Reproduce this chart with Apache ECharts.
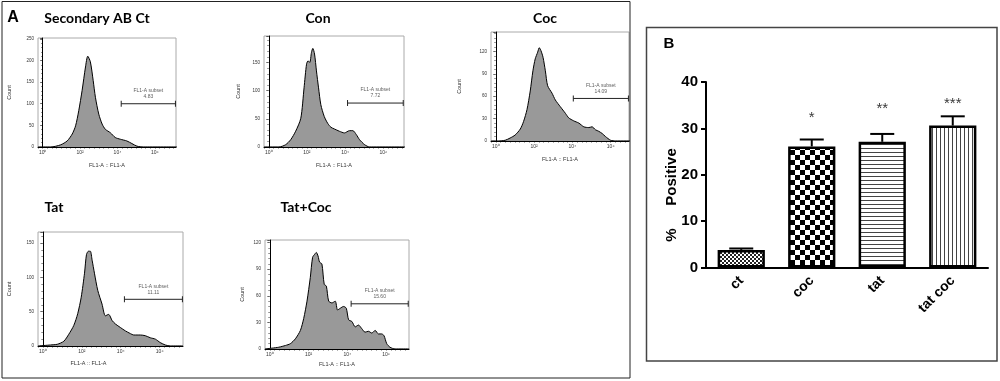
<!DOCTYPE html>
<html>
<head>
<meta charset="utf-8">
<script src="https://cdn.jsdelivr.net/npm/echarts@6/dist/echarts.min.js"></script>
<style>
  html, body { margin: 0; padding: 0; background: #fff; }
  #chart { width: 1000px; height: 381px; }
</style>
</head>
<body>
<div id="chart"></div>
<script>
// flow histograms: [log10(FL1-A), count]
const secondaryAbCt = [[-0.25,0],[0.43,0],[0.96,5],[1.31,14],[1.58,30],[1.76,49],[1.93,84],[2.11,131],[2.29,185],[2.41,210],[2.55,197],[2.70,154],[2.82,115],[3.0,76],[3.18,53],[3.35,41],[3.62,33],[3.88,22],[4.15,18],[4.5,14],[4.77,8],[5.04,2],[5.39,0],[7.2,0]];
const con = [[-0.25,0],[0.53,0],[0.88,4],[1.15,13],[1.41,28],[1.68,51],[1.85,105],[1.98,147],[2.06,153],[2.15,150],[2.24,168],[2.31,175],[2.40,165],[2.50,135],[2.61,105],[2.73,75],[2.91,54],[3.09,42],[3.26,35],[3.44,32],[3.70,28],[3.97,25],[4.23,29],[4.41,29],[4.59,22],[4.76,13],[5.03,4],[5.29,0],[7.2,0]];
const coc = [[-0.25,0],[0.14,0],[0.49,1],[0.75,4],[1.01,8],[1.28,16],[1.45,26],[1.63,42],[1.80,67],[1.94,94],[2.06,110],[2.19,119],[2.27,125],[2.36,121],[2.47,112],[2.59,94],[2.71,74],[2.94,64],[3.11,55],[3.37,46],[3.64,37],[3.81,31],[4.07,27],[4.34,24],[4.60,19],[4.86,18],[5.03,19],[5.21,15],[5.38,13],[5.56,10],[5.73,6],[6.0,1],[6.26,0],[7.2,0]];
const tat = [[-0.25,0],[0.39,1.5],[0.74,2.5],[1.08,7],[1.33,17],[1.59,30],[1.79,47],[1.97,71],[2.14,106],[2.24,133],[2.34,138],[2.44,138],[2.53,125],[2.65,106],[2.82,81],[3.04,61],[3.21,44],[3.38,46],[3.56,37],[3.73,32],[3.98,27],[4.24,22],[4.50,18],[4.67,16],[5.01,16],[5.26,15],[5.52,12],[5.78,10],[6.03,5],[6.29,1.5],[6.55,0],[7.2,0]];
const tatCoc = [[-0.25,0],[0.12,1],[0.46,2],[0.81,4],[1.06,6],[1.32,11.5],[1.58,21],[1.75,34.5],[1.92,54],[2.09,80.5],[2.21,103.5],[2.32,107],[2.40,109],[2.49,105],[2.57,98],[2.69,96],[2.81,73],[2.92,71],[3.04,54],[3.21,52],[3.38,54],[3.50,44],[3.64,46],[3.81,48],[3.95,46],[4.07,33],[4.24,31],[4.41,25],[4.58,27],[4.75,23],[4.92,19],[5.09,20],[5.27,18],[5.44,21],[5.61,17],[5.78,17],[5.90,15],[6.04,6],[6.21,2],[6.47,0],[7.2,0]];

const histTitles = ['Secondary AB Ct', 'Con', 'Coc', 'Tat', 'Tat+Coc'];
const histData = [secondaryAbCt, con, coc, tat, tatCoc];
const gateValues = ['4.83', '7.72', '14.09', '11.11', '15.60'];
const gateLevels = [100, 78, 57, 68, 51];
const gateStart = [4.2, 4.13, 4.05, 4.19, 4.2];
const gateEnd = [7.1, 7.05, 6.93, 7.17, 7.15];
const countMax = [252, 197, 146, 166, 123];
const countStep = [50, 50, 30, 50, 30];
const logMax = [7.13, 7.09, 6.96, 7.2, 7.19];

// panel B
const barCategories = ['ct', 'coc', 'tat', 'tat coc'];
const barValues = [3.8, 26.1, 27.1, 30.6];
const barErrors = [0.3, 1.5, 1.7, 2.0];
const barStars = ['', '*', '**', '***'];
const starLevels = [null, 33.0, 34.8, 36.0];

// layout
const frames = [
  { left: 38, top: 38, width: 138, height: 109 },
  { left: 264, top: 36, width: 140, height: 111 },
  { left: 491, top: 32, width: 138, height: 109 },
  { left: 38, top: 232, width: 145, height: 114 },
  { left: 265, top: 240, width: 144, height: 109 }
];
const titlePos = [[97, 18], [318, 18], [545, 18], [54, 207], [306, 207]];
const countGap = [26, 23, 29, 26, 20];
const nameGapX = [15, 15, 15, 14, 12];
const nameShift = [0, 0, 0, 44, 0];

const small = 'Liberation Sans';
const sup = { 0: '\u2070', 2: '\u00b2', 4: '\u2074', 6: '\u2076' };

function pattern(kind) {
  const c = document.createElement('canvas');
  const ctx = c.getContext('2d');
  if (kind === 'fine') {
    c.width = 4; c.height = 4;
    ctx.fillStyle = '#fff'; ctx.fillRect(0, 0, 4, 4);
    ctx.fillStyle = '#222'; ctx.fillRect(0, 0, 2, 2); ctx.fillRect(2, 2, 2, 2);
  } else if (kind === 'check') {
    c.width = 10; c.height = 10;
    ctx.fillStyle = '#fff'; ctx.fillRect(0, 0, 10, 10);
    ctx.fillStyle = '#000'; ctx.fillRect(0, 0, 5, 5); ctx.fillRect(5, 5, 5, 5);
  } else if (kind === 'hline') {
    c.width = 4; c.height = 4;
    ctx.fillStyle = '#fff'; ctx.fillRect(0, 0, 4, 4);
    ctx.fillStyle = '#444'; ctx.fillRect(0, 0, 4, 1);
  } else {
    c.width = 4; c.height = 4;
    ctx.fillStyle = '#fff'; ctx.fillRect(0, 0, 4, 4);
    ctx.fillStyle = '#444'; ctx.fillRect(0, 0, 1, 4);
  }
  return { image: c, repeat: 'repeat' };
}
const barFills = [pattern('fine'), pattern('check'), pattern('hline'), pattern('vline')];

const grid = [], xAxis = [], yAxis = [], series = [], graphic = [];

frames.forEach((f, i) => {
  grid.push(Object.assign({ show: true, borderColor: '#aaa', borderWidth: 1, backgroundColor: 'transparent' }, f));
  xAxis.push({
    gridIndex: i, type: 'value', min: -0.25, max: logMax[i], interval: 0.25,
    name: 'FL1-A :: FL1-A', nameLocation: 'middle', nameGap: nameGapX[i],
    nameTextStyle: { fontFamily: small, fontSize: 5.5, color: '#333', padding: [0, nameShift[i], 0, 0] },
    axisLine: { lineStyle: { color: '#000', width: 1 } },
    axisTick: { length: 1.5, lineStyle: { color: '#000', width: 0.6 } },
    splitLine: { show: false },
    axisLabel: {
      fontFamily: small, fontSize: 5, color: '#333', margin: 3, showMaxLabel: false,
      formatter: v => {
        const r = Math.round(v);
        if (Math.abs(v - r) > 1e-6 || r < 0 || r % 2 !== 0 || r > 6) return '';
        return '10' + sup[r];
      }
    }
  });
  yAxis.push({
    gridIndex: i, type: 'value', min: 0, max: countMax[i], interval: countStep[i],
    name: 'Count', nameLocation: 'middle', nameGap: countGap[i], nameRotate: 90,
    nameTextStyle: { fontFamily: small, fontSize: 5.5, color: '#333' },
    axisLine: { show: true, lineStyle: { color: '#000', width: 1 } },
    axisTick: { length: 2.5, lineStyle: { color: '#000', width: 0.6 } },
    minorTick: { show: true, splitNumber: 5, length: 1.5, lineStyle: { color: '#000', width: 0.5 } },
    splitLine: { show: false },
    axisLabel: { fontFamily: small, fontSize: 4.5, color: '#333', margin: 4, showMaxLabel: false }
  });
  series.push({
    type: 'line', xAxisIndex: i, yAxisIndex: i, data: histData[i],
    symbol: 'none', smooth: 0.25, silent: true,
    lineStyle: { color: '#000', width: 1 },
    areaStyle: { color: '#999', opacity: 1 }
  });
  series.push({
    type: 'line', xAxisIndex: i, yAxisIndex: i,
    data: [[gateStart[i], gateLevels[i]], [gateEnd[i], gateLevels[i]]],
    symbol: 'rect', symbolSize: [1, 6], showAllSymbol: true, silent: true,
    lineStyle: { color: '#222', width: 1 }, itemStyle: { color: '#222' }
  });
  series.push({
    type: 'scatter', xAxisIndex: i, yAxisIndex: i, silent: true,
    data: [[(gateStart[i] + gateEnd[i]) / 2, gateLevels[i]]], symbolSize: 0,
    label: {
      show: true, position: 'top', distance: 4,
      formatter: 'FL1-A subset\n' + gateValues[i],
      fontFamily: small, fontSize: 5, lineHeight: 6, color: '#333'
    }
  });
  graphic.push({
    type: 'text', x: titlePos[i][0], y: titlePos[i][1],
    style: { text: histTitles[i], font: 'bold 14px Lato', fill: '#000', align: 'center', verticalAlign: 'middle' }
  });
});

// panel B bar chart
const bi = frames.length;
grid.push({ left: 706, top: 82, width: 282, height: 185.5 });
xAxis.push({
  gridIndex: bi, type: 'category', data: barCategories,
  axisLine: { lineStyle: { color: '#000', width: 2 } },
  axisTick: { alignWithLabel: true, length: 5, lineStyle: { color: '#000', width: 2 } },
  axisLabel: { rotate: 45, margin: 11, fontFamily: small, fontWeight: 'bold', fontSize: 14, color: '#000' }
});
yAxis.push({
  gridIndex: bi, type: 'value', min: 0, max: 40, interval: 10,
  axisLine: { show: true, lineStyle: { color: '#000', width: 2 } },
  axisTick: { show: true, length: 5, lineStyle: { color: '#000', width: 2 } },
  splitLine: { show: false },
  axisLabel: { margin: 8, fontFamily: small, fontWeight: 'bold', fontSize: 15, color: '#000' }
});
series.push({
  type: 'bar', xAxisIndex: bi, yAxisIndex: bi, barCategoryGap: '33%', silent: true,
  data: barValues.map((v, i) => ({ value: v, itemStyle: { color: barFills[i] } })),
  itemStyle: { borderColor: '#000', borderWidth: 2.5 }
});
series.push({
  type: 'custom', xAxisIndex: bi, yAxisIndex: bi, silent: true, z: 5,
  data: barValues.map((v, i) => [i, v, barErrors[i]]),
  renderItem: (params, api) => {
    const base = api.coord([api.value(0), api.value(1)]);
    const top = api.coord([api.value(0), api.value(1) + api.value(2)]);
    const st = { stroke: '#000', lineWidth: 2 };
    return {
      type: 'group', children: [
        { type: 'line', shape: { x1: base[0], y1: base[1], x2: top[0], y2: top[1] }, style: st },
        { type: 'line', shape: { x1: top[0] - 12, y1: top[1], x2: top[0] + 12, y2: top[1] }, style: st }
      ]
    };
  }
});
series.push({
  type: 'scatter', xAxisIndex: bi, yAxisIndex: bi, silent: true, symbolSize: 0,
  data: starLevels.map((s, i) => s === null ? null : [i, s]).filter(d => d),
  label: {
    show: true, position: 'inside', fontFamily: small, fontSize: 15, color: '#000', offset: [0, 3],
    formatter: p => barStars[p.data[0]]
  }
});

// panel frames and labels
graphic.push(
  { type: 'rect', shape: { x: 2, y: 1.5, width: 628, height: 376.5 }, style: { fill: 'none', stroke: '#222', lineWidth: 1 } },
  { type: 'rect', shape: { x: 646.5, y: 27.5, width: 350.5, height: 333.5 }, style: { fill: 'none', stroke: '#444', lineWidth: 1.5 } },
  { type: 'text', x: 13, y: 18, style: { text: 'A', font: 'bold 16px "Liberation Sans"', fill: '#000', align: 'center', verticalAlign: 'middle' } },
  { type: 'text', x: 669, y: 44, style: { text: 'B', font: 'bold 15px "Liberation Sans"', fill: '#000', align: 'center', verticalAlign: 'middle' } },
  { type: 'text', x: 672, y: 177, rotation: Math.PI / 2, style: { text: 'Positive', font: 'bold 15px "Liberation Sans"', fill: '#000', align: 'center', verticalAlign: 'middle' } },
  { type: 'text', x: 672, y: 235, rotation: Math.PI / 2, style: { text: '%', font: 'bold 15px "Liberation Sans"', fill: '#000', align: 'center', verticalAlign: 'middle' } }
);

const chart = echarts.init(document.getElementById('chart'));
chart.setOption({ animation: false, grid, xAxis, yAxis, series, graphic });
</script>
</body>
</html>
